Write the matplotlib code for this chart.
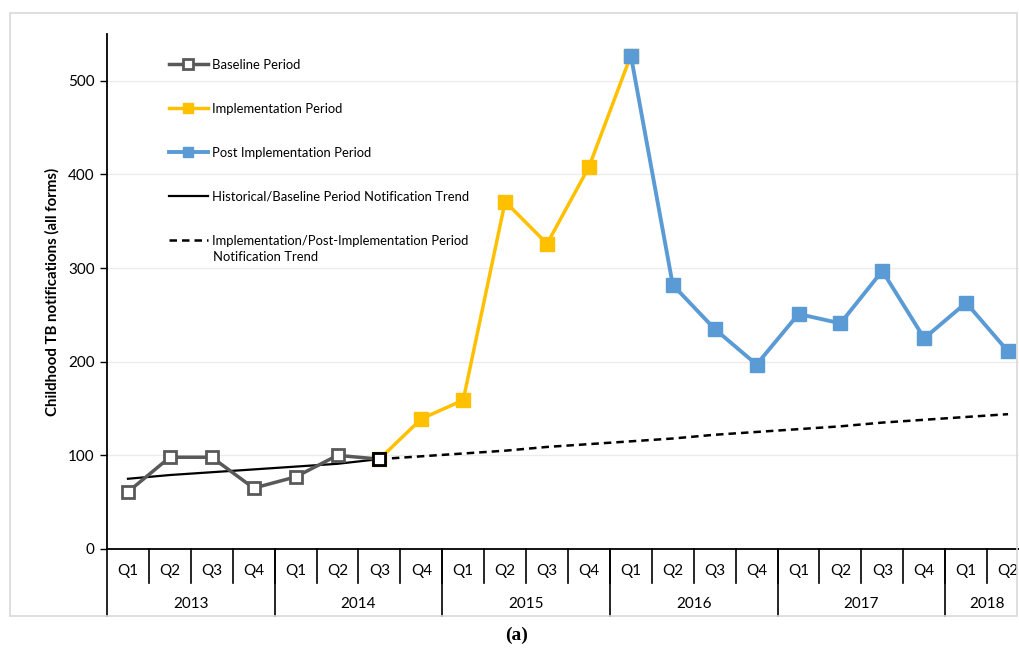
import matplotlib
matplotlib.use("Agg")
import matplotlib.pyplot as plt
import matplotlib.patches as patches
from matplotlib.transforms import blended_transform_factory

plt.rcParams['font.family'] = ['Lato', 'DejaVu Sans']

quarters = ["Q1", "Q2", "Q3", "Q4"] * 5 + ["Q1", "Q2"]
years = ["2013", "2014", "2015", "2016", "2017", "2018"]
year_lengths = [4, 4, 4, 4, 4, 2]

baseline_x = [0, 1, 2, 3, 4, 5, 6]
baseline_y = [61, 98, 98, 65, 77, 100, 96]

impl_x = [6, 7, 8, 9, 10, 11, 12]
impl_y = [96, 139, 159, 371, 326, 408, 527]

post_x = [12, 13, 14, 15, 16, 17, 18, 19, 20, 21]
post_y = [527, 282, 235, 197, 251, 241, 297, 225, 263, 211]

hist_trend_x = [0, 1, 2, 3, 4, 5, 6]
hist_trend_y = [75, 79, 82, 85, 88, 91, 96]

impl_trend_x = list(range(6, 22))
impl_trend_y = [96, 99, 102, 105, 109, 112, 115, 118, 122, 125, 128, 131, 135, 138, 141, 144]

W, H = 1019, 650
fig = plt.figure(figsize=(W / 100, H / 100), dpi=100)

# outer light frame
fig.patches.append(patches.Rectangle((10 / W, (H - 616) / H), (1017 - 10) / W, (616 - 13) / H,
                                     transform=fig.transFigure, fill=False,
                                     edgecolor='#d9d9d9', linewidth=1.2))

ax_left, ax_right, ax_bottom, ax_top = 107, 1029, 549, 34
ax = fig.add_axes([ax_left / W, (H - ax_bottom) / H, (ax_right - ax_left) / W, (ax_bottom - ax_top) / H])
ax.set_facecolor('none')

ax.set_xlim(-0.5, 21.5)
ax.set_ylim(0, 550)
ax.set_yticks([0, 100, 200, 300, 400, 500])
ax.yaxis.grid(True, color='#ececec', linewidth=1)
ax.set_axisbelow(True)
ax.tick_params(axis='y', labelsize=11, length=5, width=1, direction='out', colors='black', pad=4)
ax.set_xticks([])
for s in ['top', 'right']:
    ax.spines[s].set_visible(False)
ax.spines['left'].set_linewidth(1.3)
ax.spines['bottom'].set_linewidth(1.3)
ax.set_ylabel("Childhood TB notifications (all forms)", fontsize=10.8, fontweight='bold', labelpad=6)

ms = 10
ax.plot(hist_trend_x, hist_trend_y, color='black', lw=1.6, zorder=3,
        label='Historical/Baseline Period Notification Trend')
ax.plot(impl_trend_x, impl_trend_y, color='black', lw=1.8, ls=(0, (3, 2)), zorder=3,
        label='Implementation/Post-Implementation Period')
l_impl, = ax.plot(impl_x, impl_y, color='#FFC000', lw=2.5, marker='s', ms=ms,
                  mfc='#FFC000', mec='#FFC000', zorder=4, label='Implementation Period')
l_post, = ax.plot(post_x, post_y, color='#5B9BD5', lw=2.8, marker='s', ms=ms,
                  mfc='#5B9BD5', mec='#5B9BD5', zorder=4, label='Post Implementation Period')
l_base, = ax.plot(baseline_x, baseline_y, color='#595959', lw=2.5, marker='s', ms=ms - 0.8,
                  mfc='white', mec='#595959', mew=2, zorder=5, label='Baseline Period')
ax.plot([baseline_x[-1]], [baseline_y[-1]], marker='s', ms=ms - 0.8, mfc='white', mec='black',
        mew=2, zorder=6, ls='none')

handles, labels = ax.get_legend_handles_labels()
order = [4, 2, 3, 0, 1]
leg = ax.legend([handles[i] for i in order], [labels[i] for i in order],
                loc='upper left', bbox_to_anchor=(162 / W, (H - 52.5) / H),
                bbox_transform=fig.transFigure, frameon=False, fontsize=9.4,
                handlelength=3.0, handletextpad=0.3, labelspacing=2.45, borderpad=0)
for h in leg.legend_handles:
    try:
        h.set_markersize(7)
    except Exception:
        pass
# second line of the last legend label
fig.text(213 / W, (H - 257) / H, "Notification Trend", fontsize=9.4, ha='left', va='center')

# multi-level category axis
trans = blended_transform_factory(ax.transData, ax.transAxes)
axh = ax_bottom - ax_top
q_bot = -(583 - ax_bottom) / axh
y_bot = -(616 - ax_bottom) / axh
q_lab = -(571 - ax_bottom) / axh
y_lab = -(604 - ax_bottom) / axh

for i, q in enumerate(quarters):
    ax.text(i, q_lab, q, transform=trans, ha='center', va='center', fontsize=11)
for i in range(1, len(quarters)):
    ax.plot([i - 0.5, i - 0.5], [0, q_bot], transform=trans, color='black', lw=1.2, clip_on=False)

start = 0
ax.plot([-0.5, -0.5], [0, y_bot], transform=trans, color='black', lw=1.2, clip_on=False)
for yr, n in zip(years, year_lengths):
    ax.text(start + (n - 1) / 2, y_lab, yr, transform=trans, ha='center', va='center', fontsize=11)
    start += n
    ax.plot([start - 0.5, start - 0.5], [0, y_bot], transform=trans, color='black', lw=1.2, clip_on=False)

fig.text(517 / W, (H - 635) / H, "(a)", ha='center', va='center', fontsize=14,
         fontweight='bold', family=['Liberation Serif', 'DejaVu Serif'])

fig.savefig("out.png", dpi=100)
